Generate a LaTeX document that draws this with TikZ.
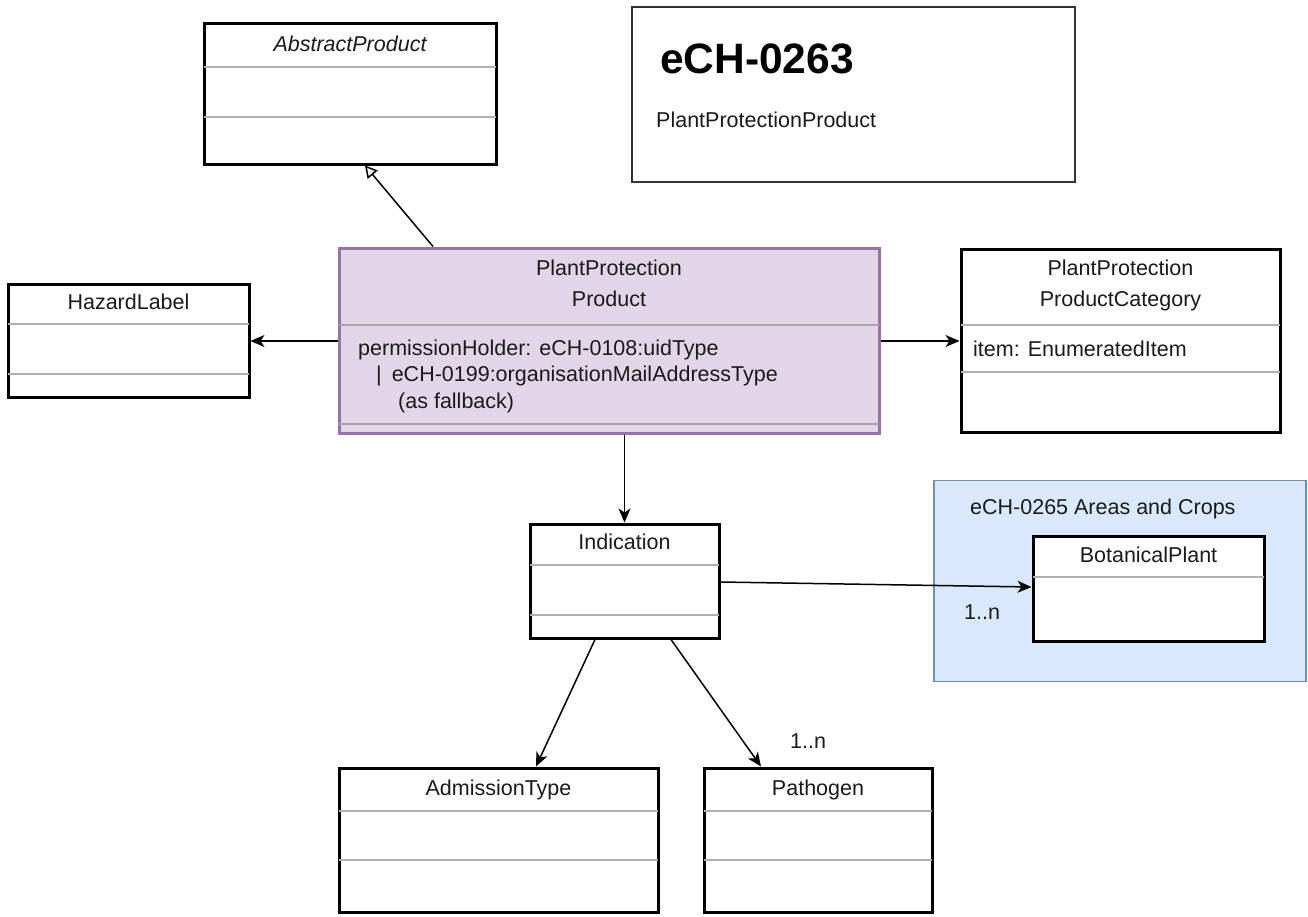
\documentclass[tikz,border=0pt]{standalone}
\usepackage{fontspec}
\setmainfont{Liberation Sans}
\usetikzlibrary{arrows.meta}
\definecolor{pppfill}{HTML}{E1D5E7}
\definecolor{pppdraw}{HTML}{9673A6}
\definecolor{grpfill}{HTML}{DAE8FC}
\definecolor{grpdraw}{HTML}{6C8EBF}
\definecolor{sepgrey}{HTML}{B0B0B0}
\definecolor{txt}{HTML}{1A1A1A}
\begin{document}
\begin{tikzpicture}[x=1pt,y=-1pt,
  umlbox/.style={draw=black, line width=3pt, fill=white, rectangle, inner sep=0pt},
  sepline/.style={draw=sepgrey, line width=1.5pt, shorten <=1.5pt, shorten >=1.5pt},
  lbl/.style={inner sep=0pt, text=txt, font=\fontsize{21.5}{31}\selectfont, text height=17pt, text depth=1.6pt},
  lbltwo/.style={inner sep=0pt, text=txt, font=\fontsize{21.5}{31}\selectfont, align=center},
  assoc/.style={draw=black, line width=1.5pt, -{Stealth[length=14pt,width=12pt,inset=4pt]}},
  gen/.style={draw=black, line width=1.5pt, -{Triangle[open,length=12pt,width=13pt]}},
]
\useasboundingbox[fill=white] (0,0) rectangle (1308,916);

% title box
\node[draw=black!80, line width=2pt, fill=white, rectangle, minimum width=443pt, minimum height=175pt] (ech) at (853.5,94.5) {};
\node[anchor=base west, inner sep=0pt, text=black, font=\fontsize{42.5}{50}\selectfont\bfseries] (echT) at (660,73) {eCH-0263};
\node[lbl, anchor=west] (echS) at (656,120) {PlantProtectionProduct};

% AbstractProduct
\node[umlbox, minimum width=292pt, minimum height=141pt] (abs) at (350,93.5) {};
\node[lbl, font=\fontsize{21.5}{31}\selectfont\itshape] (absT) at (350,44) {AbstractProduct};
\draw[sepline] (abs.west |- 0,67) -- (abs.east |- 0,67);
\draw[sepline] (abs.west |- 0,117) -- (abs.east |- 0,117);

% PlantProtectionProduct
\node[draw=pppdraw, line width=3pt, fill=pppfill, rectangle, inner sep=0pt, minimum width=540pt, minimum height=185pt] (ppp) at (609,340.5) {};
\node[lbltwo] (pppT) at (609,283) {PlantProtection\\Product};
\draw[sepline, draw=black!35] (ppp.west |- 0,325) -- (ppp.east |- 0,325);
\draw[sepline, draw=black!35] (ppp.west |- 0,424) -- (ppp.east |- 0,424);
\node[lbl, anchor=west] (pppA1) at (358,348) {permissionHolder: eCH-0108:uidType};
\node[lbl, anchor=west] (pppA2) at (376,374) {|\hspace*{10pt}eCH-0199:organisationMailAddressType};
\node[lbl, anchor=west] (pppA3) at (398,401) {(as fallback)};

% HazardLabel
\node[umlbox, minimum width=241pt, minimum height=113pt] (haz) at (128.5,340.5) {};
\node[lbl] (hazT) at (128.5,302) {HazardLabel};
\draw[sepline] (haz.west |- 0,324) -- (haz.east |- 0,324);
\draw[sepline] (haz.west |- 0,374) -- (haz.east |- 0,374);

% PlantProtectionProductCategory
\node[umlbox, minimum width=319pt, minimum height=183pt] (cat) at (1120.5,340.5) {};
\node[lbltwo] (catT) at (1120.5,285) {PlantProtection\\ProductCategory};
\draw[sepline] (cat.west |- 0,325) -- (cat.east |- 0,325);
\draw[sepline] (cat.west |- 0,372) -- (cat.east |- 0,372);
\node[lbl, anchor=west] (catA) at (973,349) {item: EnumeratedItem};

% Indication
\node[umlbox, minimum width=189pt, minimum height=114pt] (ind) at (624.5,581) {};
\node[lbl] (indT) at (624.5,542) {Indication};
\draw[sepline] (ind.west |- 0,565) -- (ind.east |- 0,565);
\draw[sepline] (ind.west |- 0,615) -- (ind.east |- 0,615);

% group eCH-0265
\node[draw=grpdraw, line width=1.5pt, fill=grpfill, rectangle, minimum width=372pt, minimum height=201pt] (grp) at (1120,581) {};
\node[lbl, anchor=west] (grpT) at (970,507) {eCH-0265 Areas and Crops};

% BotanicalPlant
\node[umlbox, minimum width=231pt, minimum height=105pt] (bot) at (1148.5,588.5) {};
\node[lbl] (botT) at (1148.5,555) {BotanicalPlant};
\draw[sepline] (bot.west |- 0,577) -- (bot.east |- 0,577);

% AdmissionType
\node[umlbox, minimum width=319pt, minimum height=144pt] (adm) at (498.5,840) {};
\node[lbl] (admT) at (498.5,788) {AdmissionType};
\draw[sepline] (adm.west |- 0,811) -- (adm.east |- 0,811);
\draw[sepline] (adm.west |- 0,860) -- (adm.east |- 0,860);

% Pathogen
\node[umlbox, minimum width=228pt, minimum height=144pt] (pat) at (818,840) {};
\node[lbl] (patT) at (818,788) {Pathogen};
\draw[sepline] (pat.west |- 0,811) -- (pat.east |- 0,811);
\draw[sepline] (pat.west |- 0,860) -- (pat.east |- 0,860);

% connectors
\draw[gen] (ppp.north -| 433,0) -- (abs.south -| 365,0);
\draw[assoc] (ppp.west |- 0,341) -- (haz.east |- 0,341);
\draw[assoc] (ppp.east |- 0,341) -- (cat.west |- 0,341);
\draw[assoc] (ppp.south -| ind.north) -- (ind.north);
\draw[assoc] (ind.east |- 0,582) -- (bot.west |- 0,587);
\draw[assoc] (ind.south -| 595,0) -- (adm.north -| 536,0);
\draw[assoc] (ind.south -| 671,0) -- (pat.north -| 761,0);

\node[lbl, anchor=west] (m1) at (964,612) {1..n};
\node[lbl, anchor=west] (m2) at (790,741) {1..n};
\end{tikzpicture}
\end{document}
